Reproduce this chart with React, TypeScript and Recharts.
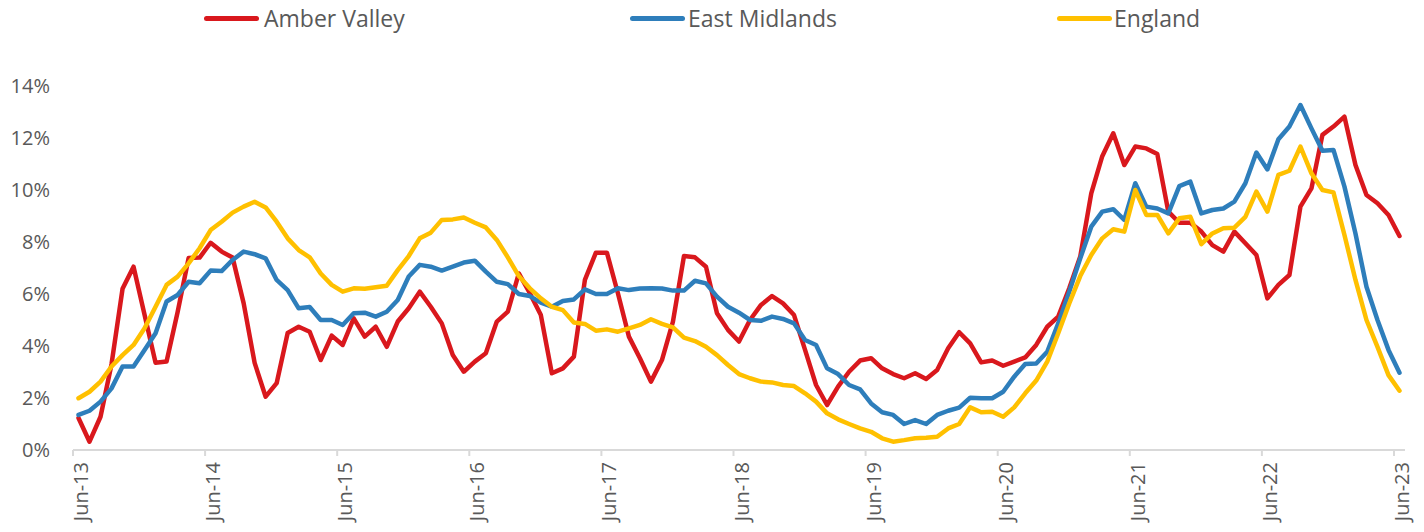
import React from 'react';
import { LineChart, Line, XAxis, YAxis } from 'recharts';

// monthly series, Jun-13 .. Jun-23 (121 points), values in %
const AMBER_VALLEY = [
  1.23, 0.32, 1.28, 3.3, 6.2, 7.05, 5.2, 3.36, 3.4, 5.3, 7.38, 7.4,
  7.97, 7.63, 7.4, 5.65, 3.35, 2.05, 2.57, 4.5, 4.74, 4.55, 3.46, 4.4,
  4.04, 5.06, 4.36, 4.74, 3.97, 4.94, 5.45, 6.09, 5.51, 4.87, 3.65, 3.01,
  3.4, 3.72, 4.94, 5.32, 6.79, 6.03, 5.19, 2.95, 3.14, 3.59, 6.54, 7.59,
  7.59, 6.03, 4.36, 3.53, 2.63, 3.46, 4.94, 7.46, 7.41, 7.05, 5.26, 4.62,
  4.17, 5.0, 5.58, 5.92, 5.64, 5.19, 3.85, 2.5, 1.73, 2.44, 3.01, 3.44,
  3.53, 3.14, 2.92, 2.76, 2.95, 2.73, 3.08, 3.91, 4.53, 4.1, 3.37, 3.44,
  3.24, 3.4, 3.56, 4.04, 4.74, 5.13, 6.22, 7.44, 9.87, 11.3, 12.18, 10.96,
  11.67, 11.6, 11.38, 9.17, 8.74, 8.74, 8.4, 7.88, 7.63, 8.4, 7.95, 7.5,
  5.83, 6.35, 6.73, 9.36, 10.06, 12.12, 12.44, 12.82, 10.96, 9.81, 9.49, 9.04,
  8.23,
];

const EAST_MIDLANDS = [
  1.35, 1.51, 1.86, 2.37, 3.21, 3.21, 3.85, 4.49, 5.71, 5.96, 6.47, 6.41,
  6.9, 6.88, 7.31, 7.63, 7.53, 7.37, 6.54, 6.15, 5.45, 5.5, 5.0, 5.0,
  4.81, 5.26, 5.28, 5.13, 5.32, 5.77, 6.67, 7.12, 7.05, 6.9, 7.05, 7.21,
  7.28, 6.86, 6.47, 6.38, 6.0, 5.92, 5.67, 5.51, 5.73, 5.79, 6.18, 6.0,
  6.0, 6.22, 6.15, 6.21, 6.22, 6.21, 6.13, 6.13, 6.51, 6.41, 5.9, 5.51,
  5.28, 5.0, 4.97, 5.13, 5.04, 4.87, 4.23, 4.04, 3.14, 2.92, 2.5, 2.33,
  1.79, 1.45, 1.35, 1.0, 1.15, 1.0, 1.35, 1.51, 1.63, 2.01, 1.99, 1.99,
  2.24, 2.82, 3.31, 3.33, 3.78, 4.87, 6.09, 7.37, 8.59, 9.17, 9.26, 8.85,
  10.26, 9.36, 9.29, 9.1, 10.15, 10.32, 9.1, 9.23, 9.29, 9.55, 10.26, 11.44,
  10.79, 11.95, 12.44, 13.27, 12.37, 11.51, 11.54, 10.13, 8.33, 6.28, 5.0, 3.85,
  2.97,
];

const ENGLAND = [
  1.99, 2.24, 2.63, 3.21, 3.65, 4.04, 4.68, 5.51, 6.35, 6.67, 7.18, 7.76,
  8.46, 8.78, 9.13, 9.36, 9.55, 9.33, 8.78, 8.14, 7.69, 7.41, 6.79, 6.35,
  6.09, 6.22, 6.2, 6.26, 6.32, 6.92, 7.46, 8.14, 8.36, 8.85, 8.87, 8.94,
  8.74, 8.56, 8.08, 7.41, 6.69, 6.22, 5.83, 5.51, 5.38, 4.9, 4.85, 4.59,
  4.64, 4.55, 4.68, 4.81, 5.03, 4.85, 4.72, 4.32, 4.19, 3.97, 3.65, 3.27,
  2.92, 2.76, 2.63, 2.6, 2.5, 2.46, 2.18, 1.86, 1.41, 1.18, 1.0, 0.83,
  0.7, 0.45, 0.32, 0.38, 0.45, 0.47, 0.51, 0.83, 1.0, 1.64, 1.45, 1.47,
  1.28, 1.64, 2.18, 2.67, 3.4, 4.49, 5.64, 6.69, 7.5, 8.14, 8.49, 8.4,
  10.0, 9.04, 9.04, 8.33, 8.91, 8.97, 7.92, 8.33, 8.53, 8.55, 8.97, 9.94,
  9.17, 10.58, 10.74, 11.67, 10.64, 10.0, 9.91, 8.27, 6.54, 5.0, 3.97, 2.88,
  2.28,
];

// x labels, one every 12 months
const TICK_LABELS = ['Jun-13', 'Jun-14', 'Jun-15', 'Jun-16', 'Jun-17', 'Jun-18', 'Jun-19', 'Jun-20', 'Jun-21', 'Jun-22', 'Jun-23'];
const Y_TICKS = [0, 2, 4, 6, 8, 10, 12, 14];

const SERIES = [
  { key: 'av', name: 'Amber Valley', color: '#D9181D', values: AMBER_VALLEY },
  { key: 'em', name: 'East Midlands', color: '#2E7EBB', values: EAST_MIDLANDS },
  { key: 'en', name: 'England', color: '#FFC000', values: ENGLAND },
];

const data = AMBER_VALLEY.map((_, i) => ({
  i,
  av: AMBER_VALLEY[i],
  em: EAST_MIDLANDS[i],
  en: ENGLAND[i],
}));

const W = 1408;
const H = 524;
const MARGIN = { top: 78, right: 11, bottom: 12, left: 0 };
const Y_W = 65;
const FONT = '"Open Sans", sans-serif';
const TEXT = '#595959';
const AXIS = '#D9D9D9';
const N = AMBER_VALLEY.length;
const HALF_STEP = (W - MARGIN.left - MARGIN.right - Y_W) / N / 2;

function MonthTick({ x, y, payload }: any) {
  const label = TICK_LABELS[Math.round(payload.value / 12)];
  return (
    <g>
      <line x1={x - HALF_STEP} x2={x - HALF_STEP} y1={y} y2={y + 6} stroke={AXIS} strokeWidth={2} />
      <text
        transform={`translate(${x + 2},${y + 12}) rotate(-90)`}
        textAnchor="end"
        dominantBaseline="central"
        fontSize={20}
        fontFamily={FONT}
        fill={TEXT}
      >
        {label}
      </text>
    </g>
  );
}

const LEGEND_POS = [
  { swatch: 196, text: 256 },
  { swatch: 622, text: 680 },
  { swatch: 1049, text: 1106 },
];

export default function App() {
  return (
    <div style={{ position: 'relative', width: W, height: H, fontFamily: FONT }}>
      {SERIES.map((s, k) => (
        <div key={s.key}>
          <div
            style={{
              position: 'absolute',
              left: LEGEND_POS[k].swatch,
              top: 8,
              width: 55,
              height: 5,
              borderRadius: 3,
              background: s.color,
            }}
          />
          <div
            style={{
              position: 'absolute',
              left: LEGEND_POS[k].text,
              top: -5,
              lineHeight: '30px',
              fontSize: 23,
              color: TEXT,
              whiteSpace: 'nowrap',
            }}
          >
            {s.name}
          </div>
        </div>
      ))}
      <LineChart width={W} height={H} data={data} margin={MARGIN}>
        <XAxis
          dataKey="i"
          type="number"
          domain={[-0.5, N - 0.5]}
          ticks={TICK_LABELS.map((_, k) => k * 12)}
          interval={0}
          tick={<MonthTick />}
          tickLine={false}
          tickSize={0}
          tickMargin={0}
          axisLine={{ stroke: AXIS, strokeWidth: 2 }}
          height={70}
        />
        <YAxis
          type="number"
          domain={[0, 14]}
          ticks={Y_TICKS}
          interval={0}
          width={Y_W}
          axisLine={false}
          tickLine={false}
          tickSize={0}
          tickMargin={23}
          tickFormatter={(v: number) => `${v}%`}
          tick={{ fontSize: 20, fontFamily: FONT, fill: TEXT }}
        />
        {SERIES.map((s) => (
          <Line
            key={s.key}
            type="linear"
            dataKey={s.key}
            name={s.name}
            stroke={s.color}
            strokeWidth={4.5}
            strokeLinejoin="round"
            strokeLinecap="round"
            dot={false}
            isAnimationActive={false}
          />
        ))}
      </LineChart>
    </div>
  );
}
